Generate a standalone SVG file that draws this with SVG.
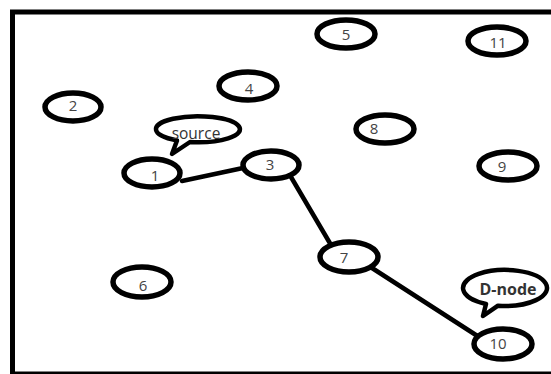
<svg xmlns="http://www.w3.org/2000/svg" width="551" height="374" viewBox="0 0 551 374">
<style>
.n ellipse{fill:#fff;stroke:#000;stroke-width:5.5}
.n text{font-family:"Open Sans","Liberation Sans",sans-serif;font-size:15px;fill:#444;text-anchor:middle;dominant-baseline:central}
.b path{fill:#fff;stroke:#000;stroke-width:4.5;stroke-linejoin:round}
.b text{font-family:"Open Sans","Liberation Sans",sans-serif;fill:#333;text-anchor:middle;dominant-baseline:central}
.c line{stroke:#000;stroke-width:4.5;stroke-linecap:round}
</style>
<rect x="0" y="0" width="551" height="374" fill="#fff"/>
<rect x="12.5" y="12" width="560" height="362" fill="none" stroke="#000" stroke-width="5"/>
<g id="connectors" class="c">
<line x1="182" y1="181" x2="243" y2="168"/>
<line x1="291" y1="177" x2="331" y2="245"/>
<line x1="372" y1="268" x2="479" y2="337"/>
</g>
<g id="node1" class="n"><ellipse cx="152" cy="173" rx="28" ry="14"/><text x="155" y="175">1</text></g>
<g id="node2" class="n"><ellipse cx="73" cy="107" rx="28" ry="14"/><text x="73" y="105">2</text></g>
<g id="node3" class="n"><ellipse cx="271" cy="165" rx="28" ry="14"/><text x="270" y="164">3</text></g>
<g id="node4" class="n"><ellipse cx="248" cy="86" rx="29" ry="14"/><text x="249" y="88">4</text></g>
<g id="node5" class="n"><ellipse cx="346" cy="34" rx="29" ry="14"/><text x="346" y="34">5</text></g>
<g id="node6" class="n"><ellipse cx="142" cy="282" rx="29" ry="15"/><text x="143" y="285">6</text></g>
<g id="node7" class="n"><ellipse cx="349" cy="257" rx="29" ry="15"/><text x="344" y="257">7</text></g>
<g id="node8" class="n"><ellipse cx="385" cy="129" rx="29" ry="14"/><text x="374" y="128">8</text></g>
<g id="node9" class="n"><ellipse cx="508" cy="166" rx="29" ry="14"/><text x="502" y="166">9</text></g>
<g id="node10" class="n"><ellipse cx="503" cy="344" rx="29" ry="15"/><text x="498" y="343">10</text></g>
<g id="node11" class="n"><ellipse cx="497" cy="41" rx="29" ry="14"/><text x="498" y="42">11</text></g>
<g id="source" class="b"><path d="M190,142 A42 13 0 1 0 177,140.5 L172,154 Z"/><text x="196" y="133" font-size="15.5">source</text></g>
<g id="dnode" class="b"><path d="M498,305.7 A42 18 0 1 0 486,304 L483,316 Z"/><text x="508" y="289" font-size="16" font-weight="bold">D-node</text></g>
</svg>
